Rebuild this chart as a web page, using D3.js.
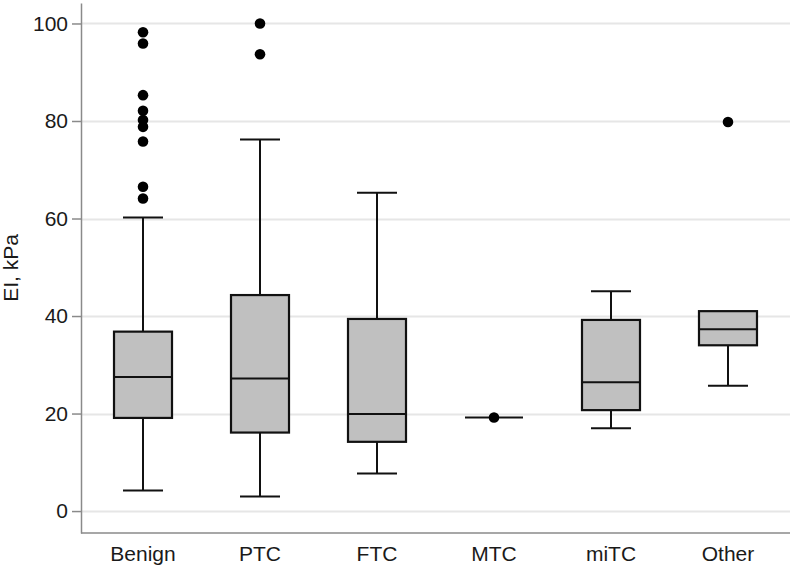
<!DOCTYPE html>
<html>
<head>
<meta charset="utf-8">
<script src="https://cdn.jsdelivr.net/npm/d3@7"></script>
<style>
  html, body { margin: 0; padding: 0; background: #fff; }
  svg { display: block; font-family: Arial, "Liberation Sans", sans-serif; }
</style>
</head>
<body>
<svg id="chart" width="793" height="568"></svg>
<script>
// ---- data ----
const categories = ["Benign", "PTC", "FTC", "MTC", "miTC", "Other"];
const whiskerLow  = [4.2, 3.0, 7.7, 19.2, 17.0, 25.7];
const q1          = [19.1, 16.1, 14.2, 19.2, 20.7, 34.0];
const median      = [27.5, 27.2, 19.9, 19.2, 26.4, 37.3];
const q3          = [36.8, 44.3, 39.4, 19.2, 39.2, 41.0];
const whiskerHigh = [60.2, 76.2, 65.3, 19.2, 45.1, 41.0];
const outliersBenign = [98.2, 95.9, 85.3, 82.1, 80.2, 78.8, 75.8, 66.5, 64.1];
const outliersPTC    = [100.0, 93.7];
const outliersFTC    = [];
const outliersMTC    = [19.2];
const outliersMiTC   = [];
const outliersOther  = [79.8];
const yTicks = [0, 20, 40, 60, 80, 100];
const yLabel = "EI, kPa";

const outliers = [outliersBenign, outliersPTC, outliersFTC, outliersMTC, outliersMiTC, outliersOther];
const boxes = categories.map((c, i) => ({
  cat: c, lo: whiskerLow[i], q1: q1[i], med: median[i], q3: q3[i], hi: whiskerHigh[i], out: outliers[i]
}));

// ---- layout ----
const plotLeft = 81, plotRight = 790, plotTop = 3, plotBottom = 533;
const boxW = 58, capW = 40;

const svg = d3.select("#chart");
const x = d3.scalePoint().domain(categories).range([plotLeft, plotRight]).padding(0.53);
const y = d3.scaleLinear().domain([-4.5, 104.2]).range([plotBottom, plotTop]);

// gridlines
svg.append("g").selectAll("line").data(yTicks).join("line")
  .attr("x1", plotLeft).attr("x2", plotRight)
  .attr("y1", d => Math.round(y(d)) + 0.5).attr("y2", d => Math.round(y(d)) + 0.5)
  .attr("stroke", "#e6e6e6").attr("stroke-width", 2);

// y axis
const yAxis = svg.append("g")
  .attr("transform", `translate(${plotLeft},0)`)
  .call(d3.axisLeft(y).tickValues(yTicks).tickSize(9).tickPadding(4).tickSizeOuter(0));
yAxis.select(".domain").attr("stroke", "#8a8a8a").attr("stroke-width", 1.5);
yAxis.selectAll(".tick line").attr("stroke", "#8a8a8a").attr("stroke-width", 1.5);
yAxis.selectAll(".tick text").attr("font-size", 21).attr("fill", "#1a1a1a")
  .attr("font-family", "Arial, 'Liberation Sans', sans-serif");

// x axis line
svg.append("line")
  .attr("x1", plotLeft).attr("x2", plotRight).attr("y1", plotBottom).attr("y2", plotBottom)
  .attr("stroke", "#8a8a8a").attr("stroke-width", 1.5);

// x labels
svg.append("g").selectAll("text").data(categories).join("text")
  .attr("x", d => x(d)).attr("y", 561)
  .attr("text-anchor", "middle").attr("font-size", 21).attr("fill", "#1a1a1a")
  .text(d => d);

// y label
svg.append("text")
  .attr("transform", `translate(18,${(plotTop + plotBottom) / 2}) rotate(-90)`)
  .attr("text-anchor", "middle").attr("font-size", 21).attr("fill", "#1a1a1a")
  .text(yLabel);

// boxes
const g = svg.append("g").selectAll("g").data(boxes).join("g");
const stroke = "#111";

// upper whisker
g.filter(d => d.hi > d.q3).append("line")
  .attr("x1", d => x(d.cat)).attr("x2", d => x(d.cat))
  .attr("y1", d => y(d.hi)).attr("y2", d => y(d.q3))
  .attr("stroke", stroke).attr("stroke-width", 2);
g.filter(d => d.hi > d.q3).append("line")
  .attr("x1", d => x(d.cat) - capW / 2).attr("x2", d => x(d.cat) + capW / 2)
  .attr("y1", d => y(d.hi)).attr("y2", d => y(d.hi))
  .attr("stroke", stroke).attr("stroke-width", 2);
// lower whisker
g.filter(d => d.lo < d.q1).append("line")
  .attr("x1", d => x(d.cat)).attr("x2", d => x(d.cat))
  .attr("y1", d => y(d.lo)).attr("y2", d => y(d.q1))
  .attr("stroke", stroke).attr("stroke-width", 2);
g.filter(d => d.lo < d.q1).append("line")
  .attr("x1", d => x(d.cat) - capW / 2).attr("x2", d => x(d.cat) + capW / 2)
  .attr("y1", d => y(d.lo)).attr("y2", d => y(d.lo))
  .attr("stroke", stroke).attr("stroke-width", 2);
// box
g.append("rect")
  .attr("x", d => x(d.cat) - boxW / 2).attr("width", boxW)
  .attr("y", d => y(d.q3)).attr("height", d => y(d.q1) - y(d.q3))
  .attr("fill", "#c0c0c0").attr("stroke", stroke).attr("stroke-width", 2.2);
// median
g.append("line")
  .attr("x1", d => x(d.cat) - boxW / 2).attr("x2", d => x(d.cat) + boxW / 2)
  .attr("y1", d => y(d.med)).attr("y2", d => y(d.med))
  .attr("stroke", stroke).attr("stroke-width", 2);
// outliers
g.selectAll("circle").data(d => d.out.map(v => ({ cat: d.cat, v }))).join("circle")
  .attr("cx", d => x(d.cat)).attr("cy", d => y(d.v)).attr("r", 5.3)
  .attr("fill", "#000");
</script>
</body>
</html>
